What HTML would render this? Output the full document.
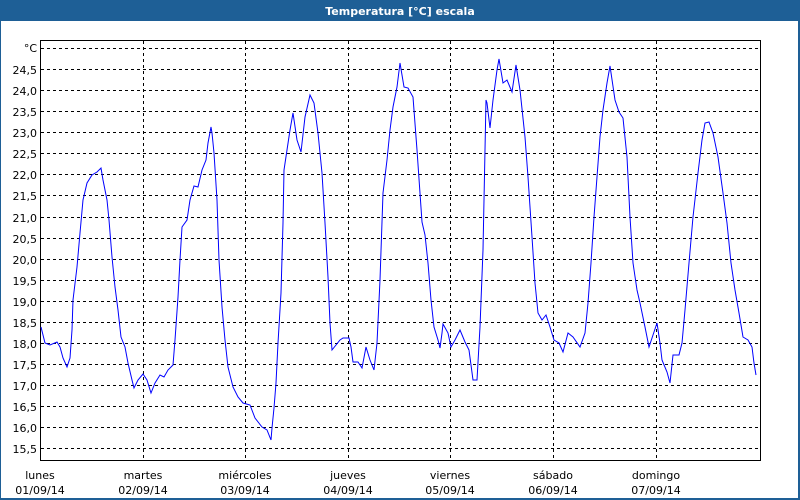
<!DOCTYPE html>
<html><head><meta charset="utf-8"><style>
html,body{margin:0;padding:0;background:#fff}
svg{display:block}
text{font-family:"DejaVu Sans","Liberation Sans",sans-serif;font-size:11px;fill:#000}
</style></head><body>
<svg width="800" height="500" viewBox="0 0 800 500" xmlns="http://www.w3.org/2000/svg">
<rect x="0" y="0" width="800" height="500" fill="#1e5f96"/>
<rect x="1" y="21" width="797" height="477" fill="#fff"/>
<text x="400" y="15" text-anchor="middle" style="font-weight:bold;fill:#fff;font-size:11px">Temperatura [°C] escala</text>
<g stroke="#000" stroke-width="1" stroke-dasharray="3,3" fill="none">
<path d="M41 48.5H760M41 69.5H760M41 90.5H760M41 111.5H760M41 132.5H760M41 153.5H760M41 174.5H760M41 195.5H760M41 217.5H760M41 238.5H760M41 259.5H760M41 280.5H760M41 301.5H760M41 322.5H760M41 343.5H760M41 364.5H760M41 385.5H760M41 406.5H760M41 427.5H760M41 448.5H760"/>
<path d="M143.5 41V460M245.5 41V460M348.5 41V460M450.5 41V460M553.5 41V460M656.5 41V460"/>
</g>
<rect x="40.5" y="40.5" width="720" height="420" fill="none" stroke="#000"/>
<g text-anchor="end">
<text x="37" y="52">°C</text>
<text x="37" y="74">24,5</text><text x="37" y="95">24,0</text><text x="37" y="116">23,5</text><text x="37" y="137">23,0</text><text x="37" y="158">22,5</text><text x="37" y="179">22,0</text><text x="37" y="200">21,5</text><text x="37" y="222">21,0</text><text x="37" y="243">20,5</text><text x="37" y="264">20,0</text><text x="37" y="285">19,5</text><text x="37" y="306">19,0</text><text x="37" y="327">18,5</text><text x="37" y="348">18,0</text><text x="37" y="369">17,5</text><text x="37" y="390">17,0</text><text x="37" y="411">16,5</text><text x="37" y="432">16,0</text><text x="37" y="453">15,5</text>
</g>
<g text-anchor="middle">
<text x="40" y="479">lunes</text><text x="40" y="494">01/09/14</text>
<text x="143" y="479">martes</text><text x="143" y="494">02/09/14</text>
<text x="245" y="479">miércoles</text><text x="245" y="494">03/09/14</text>
<text x="348" y="479">jueves</text><text x="348" y="494">04/09/14</text>
<text x="450" y="479">viernes</text><text x="450" y="494">05/09/14</text>
<text x="553" y="479">sábado</text><text x="553" y="494">06/09/14</text>
<text x="656" y="479">domingo</text><text x="656" y="494">07/09/14</text>
</g>
<polyline fill="none" stroke="#0000ff" stroke-width="1" points="41,327 45,343 50,345 57,342 60,347 63,358 67,367 70,358 72,330 73,300 77,267 80,233 83,200 87,183 92,175 97,172 101,168 103,180 107,200 109,220 112,257 115,287 118,310 121,337 125,347 128,363 132,380 134,388 138,380 143,374 147,380 151,393 155,383 160,375 164,377 168,370 173,365 175,340 178,297 180,260 182,227 187,220 190,200 194,186 198,187 202,170 206,160 208,143 211,127 212,133 214,153 217,200 219,260 222,307 225,340 228,367 233,387 238,397 243,403 250,405 255,418 262,427 267,430 271,440 272,428 274,408 276,383 278,343 281,293 283,223 284,170 287,150 290,130 293,113 297,140 301,152 305,117 310,95 314,103 318,133 322,173 325,223 328,277 330,323 332,350 340,340 343,338 349,338 351,347 353,362 358,362 362,368 366,347 370,360 374,370 377,343 380,280 383,193 387,160 390,130 393,107 397,87 400,63 404,87 408,88 413,97 417,150 422,222 425,235 428,263 431,300 434,327 438,340 440,348 442,333 443,324 448,333 451,347 455,340 460,330 465,342 469,350 473,380 477,380 480,327 483,250 486,100 487,103 490,128 493,100 497,70 499,59 503,83 507,80 512,92 516,65 520,90 525,137 528,177 532,237 535,283 538,313 542,320 546,315 550,327 554,340 559,343 563,352 568,333 573,337 580,347 585,333 588,303 591,263 594,217 597,177 600,137 603,110 607,83 610,66 615,100 619,112 623,118 627,157 630,217 633,263 637,290 640,303 645,327 649,347 653,335 657,323 660,343 662,360 667,372 670,383 673,355 679,355 682,343 685,310 689,263 693,217 698,173 702,140 705,123 709,122 713,133 718,157 723,193 727,223 731,263 735,290 739,313 743,337 748,340 752,347 754,363 756,375"/>
</svg>
</body></html>
